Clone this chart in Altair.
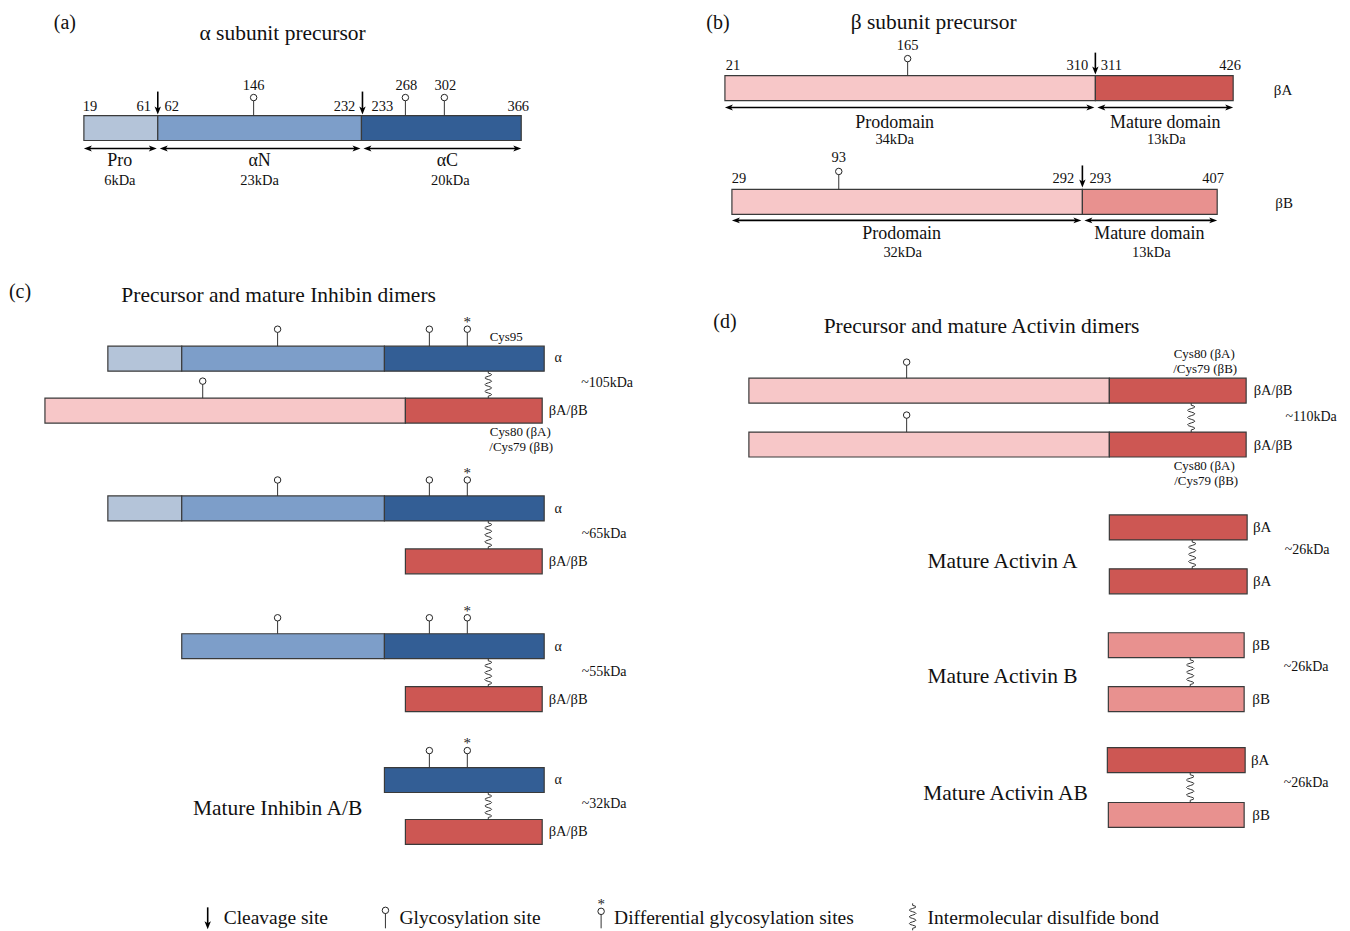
import altair as alt
import pandas as pd

FONT = "Liberation Serif"

# ---- domain bars: x0, x1, top, kind ----
bar_x0 = [82, 156, 360, 724, 1095, 731, 1082,
          106, 180, 383, 43, 404,
          106, 180, 383, 404,
          180, 383, 404,
          383, 404,
          748, 1109, 748, 1109,
          1109, 1109, 1108, 1108, 1107, 1108]
bar_x1 = [156, 360, 520, 1095, 1233, 1082, 1217,
          180, 383, 543, 404, 541,
          180, 383, 543, 541,
          383, 543, 541,
          543, 541,
          1109, 1246, 1109, 1246,
          1247, 1247, 1244, 1244, 1245, 1244]
bar_y0 = [115, 115, 115, 75, 75, 189, 189,
          346, 346, 346, 398, 398,
          496, 496, 496, 549,
          634, 634, 687,
          768, 820,
          378, 378, 432, 432,
          515, 569, 633, 687, 748, 803]
bar_kind = ["Pro", "αN", "αC", "Prodomain", "βA mature", "Prodomain", "βB mature",
            "Pro", "αN", "αC", "Prodomain", "βA mature",
            "Pro", "αN", "αC", "βA mature",
            "αN", "αC", "βA mature",
            "αC", "βA mature",
            "Prodomain", "βA mature", "Prodomain", "βA mature",
            "βA mature", "βA mature", "βB mature", "βB mature", "βA mature", "βB mature"]
BAR_H = 25
kind_domain = ["Pro", "αN", "αC", "Prodomain", "βA mature", "βB mature"]
kind_colors = ["#b4c4d9", "#7d9ec9", "#335e95", "#f7c7c8", "#cd5753", "#e8918f"]

# ---- glycosylation sites: x, circle y, bar top ----
gly_x = [252, 404, 443, 907, 838,
         276, 428, 466, 201,
         276, 428, 466,
         276, 428, 466,
         428, 466,
         906, 906,
         384, 600]
gly_y = [97, 97, 97, 58, 171,
         329, 329, 329, 381,
         480, 480, 480,
         618, 618, 618,
         751, 751,
         362, 415,
         911, 912]
gly_base = [115, 115, 115, 75, 189,
            346, 346, 346, 398,
            496, 496, 496,
            634, 634, 634,
            768, 768,
            378, 432,
            929, 929]

# ---- differential glycosylation asterisks ----
ast_x = [466, 466, 466, 466, 600]
ast_y = [322, 473, 611, 743, 905]

# ---- cleavage arrows: x, top, tip ----
clv_x = [156, 361, 1095, 1082, 206]
clv_y0 = [91, 91, 52, 165, 908]
clv_y1 = [114, 114, 74, 187, 930]

# ---- span (double-headed) arrows: y, x0, x1 ----
span_y = [148, 148, 148, 107, 107, 220, 220]
span_x0 = [82, 158, 362, 724, 1097, 731, 1084]
span_x1 = [155, 359, 520, 1094, 1233, 1081, 1217]

# ---- disulfide bonds: x, y0, y1 ----
ss_x = [487, 487, 487, 487, 1191, 1192, 1190, 1190, 912]
ss_y0 = [371, 521, 659, 793, 403, 540, 658, 773, 904]
ss_y1 = [398, 549, 687, 820, 432, 569, 687, 803, 931]

# ---- centred texts ----
txt = ["(a)", "α subunit precursor",
       "146", "268", "302", "19", "61", "62", "232", "233", "366",
       "Pro", "6kDa", "αN", "23kDa", "αC", "20kDa",
       "(b)", "β subunit precursor",
       "165", "21", "310", "311", "426", "βA",
       "Prodomain", "34kDa", "Mature domain", "13kDa",
       "93", "29", "292", "293", "407", "βB",
       "Prodomain", "32kDa", "Mature domain", "13kDa",
       "(c)", "Precursor and mature Inhibin dimers",
       "Cys95", "α", "~105kDa", "βA/βB", "Cys80 (βA)", "/Cys79 (βB)",
       "α", "~65kDa", "βA/βB",
       "α", "~55kDa", "βA/βB",
       "α", "~32kDa", "βA/βB", "Mature Inhibin A/B",
       "(d)", "Precursor and mature Activin dimers",
       "Cys80 (βA)", "/Cys79 (βB)", "βA/βB", "~110kDa", "βA/βB", "Cys80 (βA)", "/Cys79 (βB)",
       "βA", "~26kDa", "βA", "Mature Activin A",
       "βB", "~26kDa", "βB", "Mature Activin B",
       "βA", "~26kDa", "βB", "Mature Activin AB"]
txt_x = [63, 281,
         252, 405, 444, 88, 142, 170, 343, 381, 517,
         118, 118, 258, 258, 446, 449,
         717, 933,
         907, 732, 1077, 1111, 1230, 1283,
         894, 894, 1165, 1166,
         838, 738, 1063, 1100, 1213, 1284,
         901, 902, 1149, 1151,
         18, 277,
         505, 557, 606, 567, 519, 520,
         557, 603, 567,
         557, 603, 567,
         557, 603, 567, 276,
         724, 981,
         1204, 1205, 1273, 1311, 1273, 1204, 1206,
         1262, 1307, 1262, 1002,
         1261, 1306, 1261, 1002,
         1260, 1306, 1261, 1005]
txt_y = [22, 33,
         85, 85, 85, 106, 106, 106, 106, 106, 106,
         161, 181, 161, 181, 161, 181,
         22, 22,
         45, 65, 65, 65, 65, 89,
         122, 140, 122, 140,
         158, 179, 179, 179, 179, 203,
         234, 253, 234, 253,
         292, 296,
         337, 358, 383, 411, 432, 447,
         509, 534, 562,
         647, 672, 700,
         780, 805, 833, 810,
         322, 327,
         354, 369, 391, 417, 446, 466, 481,
         527, 550, 581, 562,
         645, 667, 699, 677,
         760, 783, 816, 794]
txt_size = [20, 21.5,
            14.5, 14.5, 14.5, 14.5, 14.5, 14.5, 14.5, 14.5, 14.5,
            18, 14.5, 18, 14.5, 18, 14.5,
            20, 21.5,
            14.5, 14.5, 14.5, 14.5, 14.5, 15,
            18, 14.5, 18, 14.5,
            14.5, 14.5, 14.5, 14.5, 14.5, 15,
            18, 14.5, 18, 14.5,
            20, 21.5,
            13, 14, 14, 14.5, 13, 13,
            14, 14, 14.5,
            14, 14, 14.5,
            14, 14, 14.5, 21.5,
            20, 21.5,
            13, 13, 14.5, 14, 14.5, 13, 13,
            15, 14, 15, 21.5,
            15, 14, 15, 21.5,
            15, 14, 15, 21.5]

# ---- legend texts (left aligned) ----
leg_txt = ["Cleavage site", "Glycosylation site", "Differential glycosylation sites",
           "Intermolecular disulfide bond"]
leg_x = [222, 398, 613, 927]
leg_y = [919, 919, 919, 919]

# ================= build =================
XS = alt.Scale(domain=[8, 1342], nice=False, zero=False)
YS = alt.Scale(domain=[8, 923], nice=False, zero=False, reverse=True)


def X(f="x"):
    return alt.X(f"{f}:Q", scale=XS, axis=None)


def Y(f="y"):
    return alt.Y(f"{f}:Q", scale=YS, axis=None)


bars = pd.DataFrame({"x": bar_x0, "x2": bar_x1, "y": bar_y0,
                     "y2": [v + BAR_H for v in bar_y0], "kind": bar_kind})
gly = pd.DataFrame({"x": gly_x, "y": gly_y, "y2": gly_base})
ast = pd.DataFrame({"x": ast_x, "y": ast_y})
clv = pd.DataFrame({"x": clv_x, "y": clv_y0, "y2": [v - 5 for v in clv_y1], "tip": clv_y1})
spans = pd.DataFrame({"x": span_x0, "x2": span_x1, "y": span_y,
                      "a": [v + 5 for v in span_x0], "b": [v - 5 for v in span_x1]})
ss = pd.DataFrame({"x": ss_x, "y": [(a + b) / 2 for a, b in zip(ss_y0, ss_y1)],
                   "s": [(b - a) ** 2 for a, b in zip(ss_y0, ss_y1)]})
texts = pd.DataFrame({"x": txt_x, "y": txt_y, "t": txt, "s": txt_size})
legs = pd.DataFrame({"x": leg_x, "y": leg_y, "t": leg_txt})

rect_layer = alt.Chart(bars).mark_rect(stroke="#3a3a3a", strokeWidth=1.2).encode(
    x=X(), x2="x2:Q", y=Y(), y2="y2:Q",
    color=alt.Color("kind:N", scale=alt.Scale(domain=kind_domain, range=kind_colors), legend=None))

stem_layer = alt.Chart(gly).mark_rule(color="#333333", strokeWidth=1).encode(
    x=X(), y=Y(), y2="y2:Q")
circ_layer = alt.Chart(gly).mark_point(shape="circle", filled=True, fill="white",
                                       stroke="#222222", strokeWidth=1, size=42, opacity=1).encode(
    x=X(), y=Y())
ast_layer = alt.Chart(ast).mark_text(text="*", font=FONT, fontSize=15, fill="#222222",
                                     baseline="middle").encode(x=X(), y=Y())

HEAD = 64
clv_rule = alt.Chart(clv).mark_rule(color="black", strokeWidth=1.6).encode(
    x=X(), y=Y(), y2="y2:Q")
clv_head = alt.Chart(clv).mark_point(shape="M0,0 L-0.8,-2 L0,-1.5 L0.8,-2 Z", filled=True,
                                     fill="black", strokeWidth=0, size=HEAD, opacity=1).encode(
    x=X(), y=Y("tip"))

span_rule = alt.Chart(spans).mark_rule(color="black", strokeWidth=1.6).encode(
    x=X("a"), x2="b:Q", y=Y())
span_left = alt.Chart(spans).mark_point(shape="M0,0 L2,-0.75 L1.5,0 L2,0.75 Z", filled=True,
                                        fill="black", strokeWidth=0, size=HEAD, opacity=1).encode(
    x=X(), y=Y())
span_right = alt.Chart(spans).mark_point(shape="M0,0 L-2,-0.75 L-1.5,0 L-2,0.75 Z", filled=True,
                                         fill="black", strokeWidth=0, size=HEAD, opacity=1).encode(
    x=X("x2"), y=Y())

wave = ("M0,-1 L0,-0.85 Q0.5,-0.75 0,-0.62 Q-0.5,-0.5 0,-0.38 Q0.5,-0.26 0,-0.13 "
        "Q-0.5,0 0,0.12 Q0.5,0.25 0,0.37 Q-0.5,0.5 0,0.62 Q0.5,0.74 0,0.85 L0,1")
ss_layer = alt.Chart(ss).mark_point(shape=wave, filled=False, stroke="#333333",
                                    strokeWidth=1, opacity=1).encode(
    x=X(), y=Y(), size=alt.Size("s:Q", scale=None, legend=None))

text_layer = alt.Chart(texts).mark_text(font=FONT, fill="#111111", align="center",
                                        baseline="middle").encode(
    x=X(), y=Y(), text="t:N", size=alt.Size("s:Q", scale=None, legend=None))
leg_layer = alt.Chart(legs).mark_text(font=FONT, fontSize=19.5, fill="#111111", align="left",
                                      baseline="middle").encode(x=X(), y=Y(), text="t:N")

chart = alt.layer(rect_layer, stem_layer, circ_layer, ast_layer, clv_rule, clv_head,
                  span_rule, span_left, span_right, ss_layer, text_layer, leg_layer).properties(
    width=1334, height=915, padding=0
).configure_view(stroke=None)

chart.save("out.html", embed_options={"renderer": "svg", "actions": False})
